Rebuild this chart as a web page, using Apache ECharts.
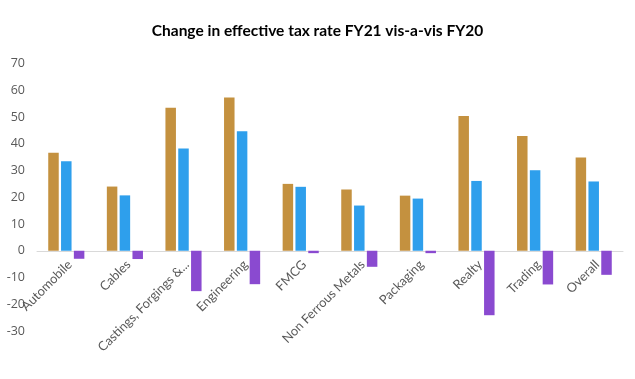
<!DOCTYPE html>
<html>
<head>
<meta charset="utf-8">
<script src="https://cdn.jsdelivr.net/npm/echarts@6/dist/echarts.min.js"></script>
<style>html,body{margin:0;padding:0;background:#fff;}#c{width:635px;height:379px;}</style>
</head>
<body>
<div id="c"></div>
<script>
const categories = ["Automobile","Cables","Castings, Forgings &...","Engineering","FMCG","Non Ferrous Metals","Packaging","Realty","Trading","Overall"];
const fy20 = [36.6, 24.0, 53.5, 57.3, 25.0, 22.9, 20.6, 50.4, 42.9, 34.9];
const fy21 = [33.5, 20.7, 38.2, 44.7, 23.9, 16.9, 19.5, 26.1, 30.1, 25.9];
const change = [-3.0, -3.1, -15.1, -12.5, -0.9, -6.0, -0.9, -24.1, -12.6, -9.0];
const yTicks = {min: -30, max: 70, interval: 10};

const chart = echarts.init(document.getElementById('c'));
const barCommon = {type: 'bar', barWidth: 10.5, barGap: '22%'};
chart.setOption({
  animation: false,
  title: {
    text: 'Change in effective tax rate FY21 vis-a-vis FY20',
    left: 'center', top: 18,
    textStyle: {fontFamily: 'Lato', fontWeight: 'bold', fontSize: 15.5, color: '#000'}
  },
  grid: {left: 37, right: 12, top: 63.5, bottom: 48, containLabel: false, outerBoundsMode: 'none'},
  xAxis: {
    type: 'category', data: categories,
    offset: -80,
    axisLine: {onZero: false, lineStyle: {color: '#d9d9d9', width: 1}},
    axisTick: {show: false},
    axisLabel: {rotate: 45, interval: 0, margin: 15, color: '#595959', fontFamily: 'Lato', fontSize: 12.8, padding: [0, -5, 0, 0]}
  },
  yAxis: {
    type: 'value', min: yTicks.min, max: yTicks.max, interval: yTicks.interval,
    splitLine: {show: false},
    axisLine: {show: false}, axisTick: {show: false},
    axisLabel: {color: '#595959', fontFamily: 'Open Sans', fontSize: 12.5, margin: 12}
  },
  series: [
    Object.assign({name: 'FY20', data: fy20, itemStyle: {color: '#C4913F'}}, barCommon),
    Object.assign({name: 'FY21', data: fy21, itemStyle: {color: '#2E9FEC'}}, barCommon),
    Object.assign({name: 'Change', data: change, itemStyle: {color: '#8A4AD0'}}, barCommon)
  ]
});
</script>
</body>
</html>
